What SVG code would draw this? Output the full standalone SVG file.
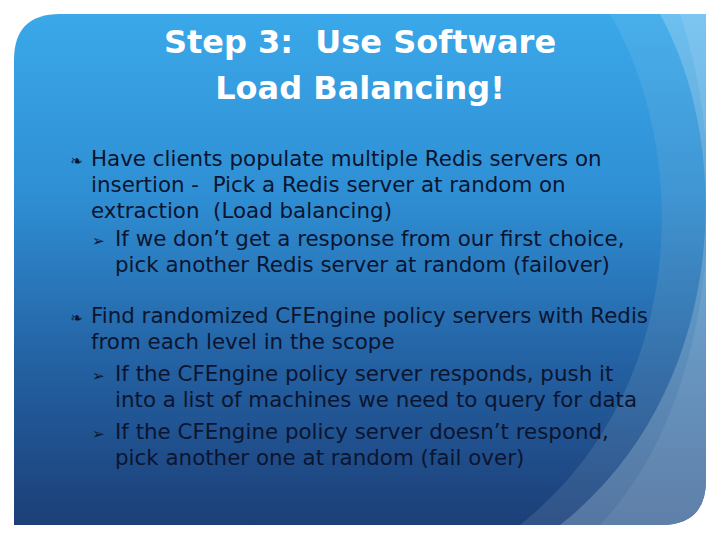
<svg xmlns="http://www.w3.org/2000/svg" width="720" height="540" viewBox="0 0 720 540">
<defs>
<linearGradient id="bg" x1="0" y1="0" x2="0" y2="1">
<stop offset="0" stop-color="#3aa8e9"/>
<stop offset="0.35" stop-color="#2f8fd4"/>
<stop offset="0.7" stop-color="#235fa0"/>
<stop offset="1" stop-color="#1c3f78"/>
</linearGradient>
<linearGradient id="sheen" x1="0" y1="0" x2="0" y2="1">
<stop offset="0" stop-color="#8ccdf3"/>
<stop offset="1" stop-color="#6f8fb4"/>
</linearGradient>
<linearGradient id="sheen2" x1="0" y1="0" x2="0" y2="1">
<stop offset="0" stop-color="#5ab8ee"/>
<stop offset="1" stop-color="#4a6a98"/>
</linearGradient>
<clipPath id="card"><path d="M60 14 H706 V480 Q706 525 661 525 H14 V60 Q14 14 60 14 Z"/></clipPath>
<style>
.t{font-family:"DejaVu Sans","Liberation Sans",sans-serif;fill:#ffffff;font-size:32px;font-weight:bold;text-anchor:middle}
.b{font-family:"DejaVu Sans","Liberation Sans",sans-serif;fill:#0b1530;font-size:21.4px}
.g{font-family:"DejaVu Sans",sans-serif;fill:#0b1530;font-size:15px}
</style>
</defs>
<rect width="720" height="540" fill="#ffffff"/>
<g clip-path="url(#card)">
<rect x="14" y="14" width="692" height="511" fill="url(#bg)"/>
<path d="M660 14 C740 160 720 400 560 525 H706 V14 Z" fill="url(#sheen)" opacity="0.8"/>
<path d="M610 14 C690 150 690 390 520 525 H600 C720 400 730 160 680 14 Z" fill="url(#sheen2)" opacity="0.45"/>
</g>
<g id="title">
<text class="t" x="360" y="53">Step 3: &#160;Use Software</text>
<text class="t" x="360" y="99">Load Balancing!</text>
</g>
<g id="body">
<text class="g" x="70" y="166">❧</text>
<text class="b" x="91" y="166">Have clients populate multiple Redis servers on</text>
<text class="b" x="91" y="192">insertion - &#160;Pick a Redis server at random on</text>
<text class="b" x="91" y="218">extraction &#160;(Load balancing)</text>
<text class="g" x="92" y="246">➢</text>
<text class="b" x="115" y="246">If we don’t get a response from our first choice,</text>
<text class="b" x="115" y="272">pick another Redis server at random (failover)</text>
<text class="g" x="70" y="323">❧</text>
<text class="b" x="91" y="323">Find randomized CFEngine policy servers with Redis</text>
<text class="b" x="91" y="349">from each level in the scope</text>
<text class="g" x="92" y="381">➢</text>
<text class="b" x="115" y="381">If the CFEngine policy server responds, push it</text>
<text class="b" x="115" y="407">into a list of machines we need to query for data</text>
<text class="g" x="92" y="439">➢</text>
<text class="b" x="115" y="439">If the CFEngine policy server doesn’t respond,</text>
<text class="b" x="115" y="465">pick another one at random (fail over)</text>
</g>
</svg>
